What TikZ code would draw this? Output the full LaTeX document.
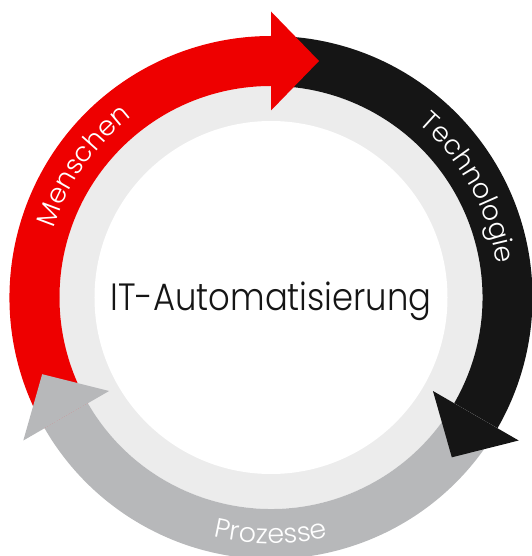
\documentclass[tikz,border=0pt]{standalone}
\usepackage{fontspec}
\setmainfont{Poppins Light}
\usetikzlibrary{calc,decorations.text}
\definecolor{rhred}{HTML}{EE0000}
\definecolor{rhblack}{HTML}{151515}
\definecolor{rhgray}{HTML}{B7B8BA}
\definecolor{rhlight}{HTML}{ECECEC}
\tikzset{
  x=1pt,y=1pt,
  band/.style={fill=#1,draw=none},
  headshape/.style={fill=#1,draw=none},
  ringtext/.style={decorate,decoration={text along path,text align=center,
     text={|\fontsize{27}{27}\selectfont\color{white}|#1}}},
}
\def\rw{176.5}
\def\rl{211.5}
\def\ro{261.5}
\def\rm{236.5}
\def\hi{187}
\def\hoo{286}
\def\hl{48}
\begin{document}
\begin{tikzpicture}
\useasboundingbox (-271,-258.5) rectangle (260,297.5);
% inner rings
\fill[rhlight] (0,0) circle[radius=\rl];
\fill[white] (0,0) circle[radius=\rw];
% bands
\fill[band=rhred] (210:\ro) arc[start angle=210,end angle=90,radius=\ro] -- (90:\rl) arc[start angle=90,end angle=210,radius=\rl] -- cycle;
\fill[band=rhblack] (90:\ro) arc[start angle=90,end angle=-30,radius=\ro] -- (-30:\rl) arc[start angle=-30,end angle=90,radius=\rl] -- cycle;
\fill[band=rhgray] (-30:\ro) arc[start angle=-30,end angle=-150,radius=\ro] -- (-150:\rl) arc[start angle=-150,end angle=-30,radius=\rl] -- cycle;
% heads
\foreach \a/\c in {90/rhred,-30/rhblack,210/rhgray}{
  \fill[headshape=\c] (\a:\hi) -- (\a:\hoo) -- ($(\a:\rm)+(\a-90:\hl)$) -- cycle;
}
% ring labels
\path[ringtext={Menschen}] (175:228) arc[start angle=175,end angle=115,radius=228];
\path[ringtext={Technologie}] (62:228) arc[start angle=62,end angle=-4,radius=228];
\path[ringtext={Prozesse}] (240:246) arc[start angle=240,end angle=300,radius=246];
% centre
\node[anchor=base,inner sep=0pt,font=\fontsize{38}{42}\selectfont,text=rhblack] (centre) at (0,-13.2) {\scalebox{0.89}[1]{IT-Automatisierung}};
\end{tikzpicture}
\end{document}
